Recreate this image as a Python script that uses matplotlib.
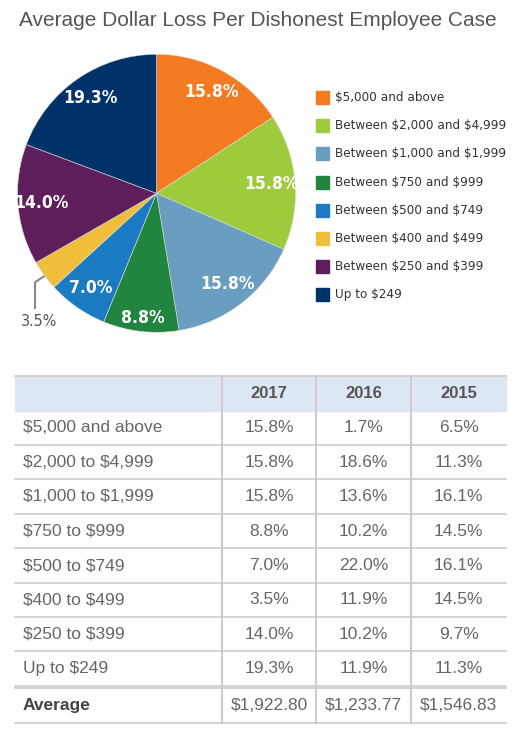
import matplotlib
matplotlib.use("Agg")
import matplotlib.pyplot as plt
import numpy as np

plt.rcParams["text.parse_math"] = False

# pie data (2017)
labels = ["$5,000 and above", "Between $2,000 and $4,999", "Between $1,000 and $1,999",
          "Between $750 and $999", "Between $500 and $749", "Between $400 and $499",
          "Between $250 and $399", "Up to $249"]
share_2017 = [15.8, 15.8, 15.8, 8.8, 7.0, 3.5, 14.0, 19.3]
colors = ["#F47B20", "#9DCB3C", "#6A9EC0", "#218540", "#1A7AC2", "#EFBE3A", "#5E1E5B", "#00326A"]

# table data
years = ["2017", "2016", "2015"]
row_labels = ["$5,000 and above", "$2,000 to $4,999", "$1,000 to $1,999", "$750 to $999",
              "$500 to $749", "$400 to $499", "$250 to $399", "Up to $249"]
col_2017 = [15.8, 15.8, 15.8, 8.8, 7.0, 3.5, 14.0, 19.3]
col_2016 = [1.7, 18.6, 13.6, 10.2, 22.0, 11.9, 10.2, 11.9]
col_2015 = [6.5, 11.3, 16.1, 14.5, 16.1, 14.5, 9.7, 11.3]
averages = ["$1,922.80", "$1,233.77", "$1,546.83"]

W, H = 515, 743
COND = dict(family="DejaVu Sans", fontstretch="condensed")
GRAY = "#555555"

fig = plt.figure(figsize=(W / 100, H / 100), dpi=100)

# background axes in pixel coords for title, legend and table
bg = fig.add_axes([0, 0, 1, 1])
bg.set_xlim(0, W)
bg.set_ylim(H, 0)
bg.axis("off")

bg.text(258, 21, "Average Dollar Loss Per Dishonest Employee Case", ha="center", va="center",
        fontsize=15, color=GRAY, family="Liberation Sans")

# pie
cx, cy, r = 156.5, 193.3, 139
pie_ax = fig.add_axes([(cx - r) / W, (H - cy - r) / H, 2 * r / W, 2 * r / H])
wedges, _ = pie_ax.pie(share_2017, colors=colors, startangle=90, counterclock=False,
                       wedgeprops=dict(linewidth=0.4, edgecolor="#dddddd"))
pie_ax.set_xlim(-1, 1)
pie_ax.set_ylim(-1, 1)
pie_ax.set_aspect("equal")

start = 90.0
for val in share_2017:
    mid = np.deg2rad(start - val * 3.6 / 2)
    start -= val * 3.6
    if val < 5:
        continue
    d = 0.9 if 8 < val < 10 else 0.83
    pie_ax.text(d * np.cos(mid), d * np.sin(mid), f"{val:.1f}%", ha="center", va="center",
                color="white", fontsize=12.5, fontweight="bold", **COND)

# small slice label with leader line
bg.plot([49.3, 35, 35], [272.7, 282.3, 308], color="#888888", lw=1.5)
bg.text(39, 322, f"{share_2017[5]:.1f}%", ha="center", va="center", color=GRAY,
        fontsize=11.5, **COND)

# legend
for i, (lab, c) in enumerate(zip(labels, colors)):
    y = 97.7 + i * 28.1
    bg.add_patch(plt.Rectangle((316, y - 6.5), 13, 13, color=c))
    bg.text(335, y, lab, ha="left", va="center", fontsize=9.6, color="#333333", **COND)

# table
left, right = 15, 506
col_x = [222, 316, 411]
top = 376
header_bot = 410.7
row_h = 34.4
bg.add_patch(plt.Rectangle((left, top), right - left, header_bot - top, color="#DDE7F3", zorder=0))
edges = col_x + [right]
for j, yr in enumerate(years):
    bg.text((edges[j] + edges[j + 1]) / 2, (top + header_bot) / 2, yr, ha="center", va="center",
            fontsize=12, fontweight="bold", color=GRAY, family="Liberation Sans")

line_c = "#cccccc"
cols = [col_2017, col_2016, col_2015]
for i, lab in enumerate(row_labels):
    y0 = header_bot + i * row_h
    yc = y0 + row_h / 2
    bg.text(23, yc, lab, ha="left", va="center", fontsize=12.5, color="#666666", family="Liberation Sans")
    for j, col in enumerate(cols):
        bg.text((edges[j] + edges[j + 1]) / 2, yc, f"{col[i]:.1f}%", ha="center", va="center",
                fontsize=12.5, color="#666666", family="Liberation Sans")
    bg.plot([left, right], [y0 + row_h, y0 + row_h], color=line_c, lw=1.2)

avg_top = header_bot + len(row_labels) * row_h
bg.plot([left, right], [avg_top + 2.5, avg_top + 2.5], color=line_c, lw=1.2)
avg_c = avg_top + 2.5 + row_h / 2
bg.text(23, avg_c, "Average", ha="left", va="center", fontsize=12.5, fontweight="bold",
        color="#444444", family="Liberation Sans")
for j, a in enumerate(averages):
    bg.text((edges[j] + edges[j + 1]) / 2, avg_c, a, ha="center", va="center",
            fontsize=12.5, color="#666666", family="Liberation Sans")
bottom = avg_top + 2.5 + row_h
bg.plot([left, right], [bottom, bottom], color=line_c, lw=1.2)
bg.plot([left, right], [top, top], color=line_c, lw=1.2)
for x in col_x:
    bg.plot([x, x], [top, bottom], color=line_c, lw=1.5)

fig.savefig("out.png", dpi=100)
